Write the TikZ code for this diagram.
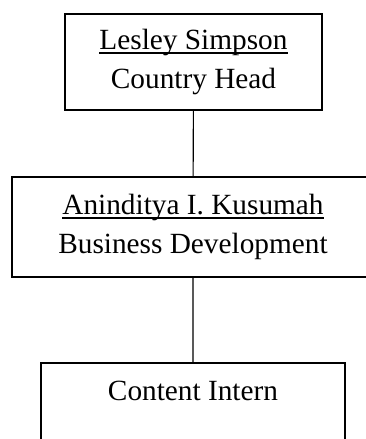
\documentclass[tikz,border=0pt]{standalone}
\usepackage{fontspec}
\setmainfont{Liberation Serif}
\usepackage{xcolor}

% underline close to the baseline, as in a word processor
\newcommand{\nameline}[1]{\setbox0\hbox{#1}\rlap{\rule[-4pt]{\wd0}{1.3pt}}\box0}

\begin{document}
\begin{tikzpicture}[x=1pt,y=1pt,
        box/.style={draw,line width=1.2pt,align=center,inner sep=0pt,
            font=\fontsize{29.3}{39}\selectfont},
        link/.style={line width=1.1pt}]
            \useasboundingbox (0,0) rectangle (365,-439);
            \node (head) at (193.5,-62) [box,minimum width=257,minimum height=96] {\nameline{Lesley Simpson}\\Country Head};
            \node (dev) at (193,-227) [box,minimum width=362,minimum height=100] {\nameline{Aninditya I. Kusumah}\\Business Development};
            \node (intern) at (193,-410) [box,minimum width=304,minimum height=94] {Content Intern\\\mbox{}};
            \draw[link] (head) -- (dev) (dev) -- (intern);
        \end{tikzpicture}
\end{document}
